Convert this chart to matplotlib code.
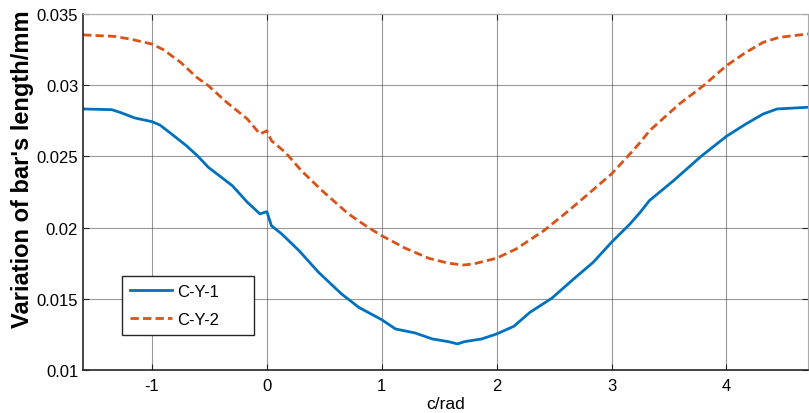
import numpy as np
import matplotlib.pyplot as plt

# C-Y-1 (solid blue)
x1 = [-1.60, -1.45, -1.35, -1.28, -1.15, -1.00, -0.93, -0.84, -0.70, -0.60,
      -0.51, -0.30, -0.17, -0.06, 0.00, 0.04, 0.13, 0.28, 0.45, 0.65,
      0.80, 1.00, 1.12, 1.29, 1.44, 1.58, 1.66, 1.72, 1.87, 2.00,
      2.15, 2.29, 2.48, 2.67, 2.84, 3.00, 3.16, 3.25, 3.33, 3.54,
      3.78, 4.00, 4.17, 4.32, 4.44, 4.71]
y1 = [0.02833, 0.02830, 0.02828, 0.02810, 0.02770, 0.02744, 0.02720, 0.02664, 0.02575, 0.02501,
      0.02424, 0.02294, 0.02178, 0.02096, 0.02112, 0.02013, 0.01955, 0.01838, 0.01686, 0.01534,
      0.01440, 0.01353, 0.01288, 0.01260, 0.01218, 0.01199, 0.01183, 0.01199, 0.01218, 0.01253,
      0.01307, 0.01405, 0.01504, 0.01639, 0.01756, 0.01897, 0.02025, 0.02108, 0.02190, 0.02330,
      0.02501, 0.02641, 0.02728, 0.02798, 0.02833, 0.02845]

# C-Y-2 (dashed orange)
x2 = [-1.60, -1.33, -1.19, -1.00, -0.90, -0.75, -0.61, -0.51, -0.35, -0.17,
      -0.06, 0.00, 0.04, 0.16, 0.30, 0.48, 0.71, 0.88, 1.00, 1.20,
      1.41, 1.58, 1.71, 1.80, 2.00, 2.17, 2.41, 2.61, 2.78, 3.00,
      3.16, 3.25, 3.33, 3.59, 3.80, 4.00, 4.17, 4.32, 4.46, 4.71]
y2 = [0.03353, 0.03343, 0.03324, 0.03289, 0.03249, 0.03160, 0.03055, 0.02997, 0.02880, 0.02763,
      0.02657, 0.02680, 0.02610, 0.02529, 0.02400, 0.02260, 0.02096, 0.02002, 0.01943, 0.01857,
      0.01784, 0.01750, 0.01737, 0.01745, 0.01785, 0.01850, 0.01978, 0.02108, 0.02224, 0.02377,
      0.02517, 0.02599, 0.02680, 0.02868, 0.02997, 0.03137, 0.03231, 0.03301, 0.03336, 0.03360]

plt.rcParams['font.family'] = ['Liberation Sans', 'DejaVu Sans']
plt.rcParams['axes.unicode_minus'] = False

fig = plt.figure(figsize=(8.09, 4.14), dpi=100)
ax = fig.add_axes([0.1026, 0.1039, 0.8962, 0.8599])

ax.plot(x1, y1, color='#0072BD', lw=2, label='C-Y-1')
ax.plot(x2, y2, color='#D95319', lw=2, linestyle=(0, (3, 1.5)), label='C-Y-2')

ax.set_xlim(-1.6, 4.71)
ax.set_ylim(0.01, 0.035)
ax.set_xticks([-1, 0, 1, 2, 3, 4])
ax.set_yticks([0.01, 0.015, 0.02, 0.025, 0.03, 0.035])
ax.set_yticklabels(['0.01', '0.015', '0.02', '0.025', '0.03', '0.035'])
ax.tick_params(direction='in', length=4, labelsize=12, top=True, right=True,
               color='#262626')
ax.tick_params(axis='x', pad=6)
ax.grid(True, color='#555555', lw=0.8, alpha=0.6)

for s in ['top', 'right']:
    ax.spines[s].set_color('#aaaaaa')
for s in ['left', 'bottom']:
    ax.spines[s].set_color('#262626')
    ax.spines[s].set_linewidth(1.2)

ax.set_xlabel('c/rad', fontsize=12.5, labelpad=2)
ax.set_ylabel("Variation of bar's length/mm", fontsize=17, fontweight='bold')
ax.yaxis.set_label_coords(-0.068, 0.567)

leg = ax.legend(loc='lower left', bbox_to_anchor=(0.0538, 0.0983, 0.182, 0.166),
                mode='expand', borderaxespad=0,
                fancybox=False, framealpha=1, edgecolor='#262626', fontsize=12,
                handlelength=2.5, handletextpad=0.3, borderpad=0.5, labelspacing=0.75)
leg.get_frame().set_linewidth(1.0)

fig.savefig('out.png', dpi=100)
